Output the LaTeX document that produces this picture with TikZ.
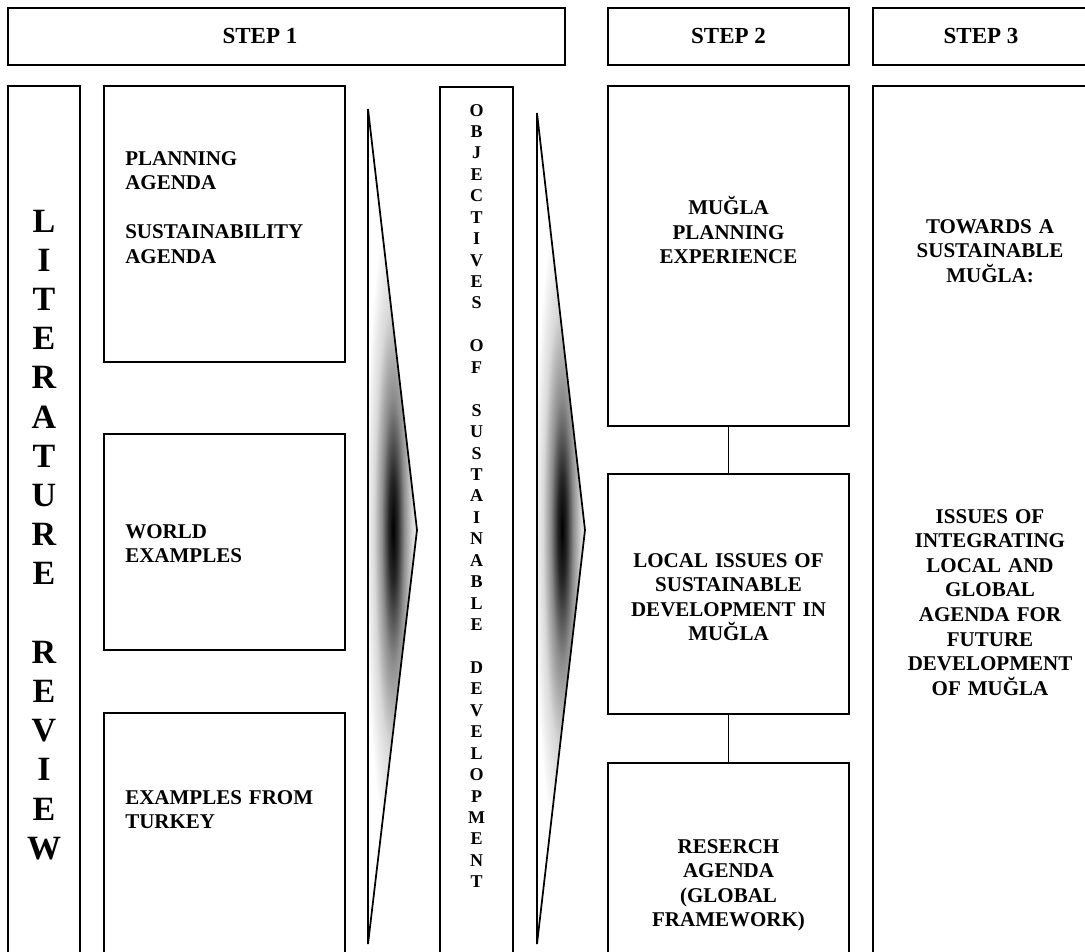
\documentclass[tikz,border=0pt]{standalone}
\usepackage{fontspec}
\setmainfont{Liberation Serif}
\usetikzlibrary{fit}

% type sizes used in the chart
\newcommand\txtbody{\fontsize{15.75pt}{18.45pt}\selectfont\bfseries}
\newcommand\txtstep{\fontsize{17.25pt}{20pt}\selectfont\bfseries}
\newcommand\txtlit{\fontsize{25.5pt}{29.4pt}\selectfont\bfseries}
\newcommand\txtobj{\fontsize{13.5pt}{16.08pt}\selectfont\bfseries}

% dark core fading out to white, used inside the chevrons
\pgfdeclareradialshading{chevronglow}{\pgfpoint{0bp}{0bp}}{%
  color(0bp)=(black); color(4bp)=(black!85); color(10bp)=(black!45);
  color(17bp)=(black!15); color(25bp)=(white); color(50bp)=(white)}

\begin{document}
\begin{tikzpicture}[x=0.75pt,y=-0.75pt,
  frame/.style={draw=black,line width=1.3pt,inner sep=0pt,fill=none},
  conn/.style={draw=black,line width=1.3pt},
  chevron/.style={draw=black,line width=1.3pt,line join=miter},
  lefttxt/.style={inner sep=0pt,anchor=base west,align=left,font=\txtbody,text width=161pt},
  midtxt/.style={inner sep=0pt,anchor=base,align=center,font=\txtbody},
  steptxt/.style={inner sep=0pt,anchor=base,font=\txtstep},
]
\useasboundingbox (0,0) rectangle (1085,951);
\clip (0,0) rectangle (1085,951);

% ---- headers ----
\node[frame,fit={(8,8) (565,65)}] (h1) {};
\node[frame,fit={(608,8) (849,65)}] (h2) {};
\node[frame,fit={(873,8) (1089,65)}] (h3) {};
\node[steptxt] (h1t) at (260,43) {STEP 1};
\node[steptxt] (h2t) at (728.5,43) {STEP 2};
\node[steptxt] (h3t) at (981,43) {STEP 3};

% ---- step 1 column ----
\node[frame,fit={(8,86) (80,960)}] (lit) {};
\node[inner sep=0pt,anchor=base,align=center,text width=40pt,font=\txtlit] (litt) at (44,232)
  {L\\I\\T\\E\\R\\A\\T\\U\\R\\E\\[\baselineskip]R\\E\\V\\I\\E\\W};

\node[frame,fit={(104,86) (345,362)}] (plan) {};
\node[lefttxt] (plant) at (125,165) {PLANNING\\AGENDA\\[18.45pt]SUSTAINABILITY\\AGENDA};

\node[frame,fit={(104,434) (345,650)}] (world) {};
\node[lefttxt] (worldt) at (125,538) {WORLD\\EXAMPLES};

\node[frame,fit={(104,713) (345,960)}] (turkey) {};
\node[lefttxt] (turkeyt) at (125,804) {EXAMPLES FROM\\TURKEY};

% ---- first chevron ----
\begin{scope}
  \clip (368,109) -- (417,530) -- (368,944) -- cycle;
  \shade[shading=chevronglow] (393,530) ellipse [x radius=28,y radius=330];
\end{scope}
\draw[chevron] (368,109) -- (417,530) -- (368,944) -- cycle;

% ---- objectives column ----
\node[frame,fit={(440,87) (513,960)}] (obj) {};
\node[inner sep=0pt,anchor=base,align=center,text width=30pt,font=\txtobj] (objt) at (476.5,116)
  {O\\B\\J\\E\\C\\T\\I\\V\\E\\S\\[\baselineskip]O\\F\\[\baselineskip]S\\U\\S\\T\\A\\I\\N\\A\\B\\L\\E\\[\baselineskip]D\\E\\V\\E\\L\\O\\P\\M\\E\\N\\T};

% ---- second chevron ----
\begin{scope}
  \clip (537,113) -- (585,530) -- (537,944) -- cycle;
  \shade[shading=chevronglow] (562,530) ellipse [x radius=28,y radius=330];
\end{scope}
\draw[chevron] (537,113) -- (585,530) -- (537,944) -- cycle;

% ---- step 2 column ----
\node[frame,fit={(608,86) (849,426)}] (mugla) {};
\node[midtxt,text width=172pt] (muglat) at (728.5,214.5) {MUĞLA\\PLANNING\\EXPERIENCE};

\node[frame,fit={(608,474) (849,714)}] (local) {};
\node[midtxt,text width=172pt] (localt) at (728.5,567) {LOCAL ISSUES OF\\SUSTAINABLE\\DEVELOPMENT IN\\MUĞLA};

\node[frame,fit={(608,763) (849,960)}] (research) {};
\node[midtxt,text width=172pt] (researcht) at (728.5,853) {RESERCH\\AGENDA\\(GLOBAL\\FRAMEWORK)};

\draw[conn] (mugla.south) -- (local.north);
\draw[conn] (local.south) -- (research.north);

% ---- step 3 column ----
\node[frame,fit={(873,86) (1089,960)}] (future) {};
\node[midtxt,text width=154pt] (futuret1) at (990,233) {TOWARDS A\\SUSTAINABLE\\MUĞLA:};
\node[midtxt,text width=154pt] (futuret2) at (990,523)
  {ISSUES OF\\INTEGRATING\\LOCAL AND\\GLOBAL\\AGENDA FOR\\FUTURE\\DEVELOPMENT\\OF MUĞLA};
\end{tikzpicture}
\end{document}
